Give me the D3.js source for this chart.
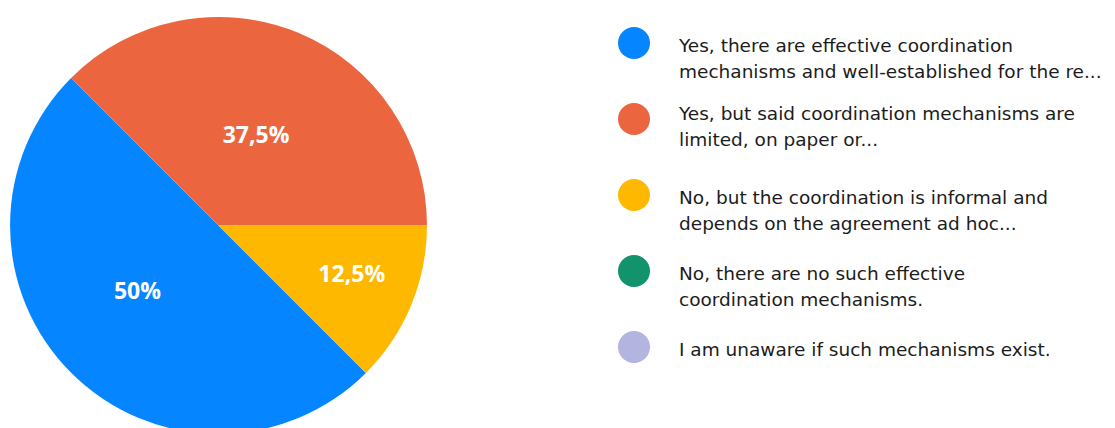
<!DOCTYPE html>
<html>
<head>
<meta charset="utf-8">
<script src="https://cdn.jsdelivr.net/npm/d3@7/dist/d3.min.js"></script>
<style>
  html, body { margin: 0; padding: 0; background: #fff; }
  svg { display: block; }
</style>
</head>
<body>
<div id="chart"></div>
<script>
// answer options (legend order) and their shares in percent
const answers = [
  "Yes, there are effective coordination|mechanisms and well-established for the re...",
  "Yes, but said coordination mechanisms are|limited, on paper or...",
  "No, but the coordination is informal and|depends on the agreement ad hoc...",
  "No, there are no such effective|coordination mechanisms.",
  "I am unaware if such mechanisms exist."
];
const shares = [50, 37.5, 12.5, 0, 0];
const shareLabels = ["50%", "37,5%", "12,5%", "", ""];
const colors = ["#0585ff", "#eb663f", "#ffb800", "#12936c", "#b3b4e0"];

const width = 1115, height = 428;
const cx = 218.5, cy = 225.5, radius = 208.5;

// label placement: distance from centre (fraction of radius) and angle nudge (deg)
const labelRadius = [0.5, 0.47, 0.68, 0.6, 0.6];
const labelTurn = [6, 0, -2.5, 0, 0];

const svg = d3.select("#chart").append("svg")
  .attr("width", width)
  .attr("height", height);

const pie = d3.pie()
  .sort(null)
  .value(d => d.value)
  .startAngle(3 * Math.PI / 4)
  .endAngle(3 * Math.PI / 4 + 2 * Math.PI);

const data = answers.map((a, i) => ({ label: a, value: shares[i], text: shareLabels[i], color: colors[i], i }));
const arcs = pie(data).filter(d => d.data.value > 0);

const arc = d3.arc().innerRadius(0).outerRadius(radius);

const g = svg.append("g").attr("transform", `translate(${cx},${cy})`);

g.selectAll("path.slice")
  .data(arcs)
  .enter().append("path")
  .attr("class", "slice")
  .attr("d", arc)
  .attr("fill", d => d.data.color);

g.selectAll("text.pct")
  .data(arcs)
  .enter().append("text")
  .attr("class", "pct")
  .attr("transform", d => {
    const r = radius * labelRadius[d.data.i];
    const a = (d.startAngle + d.endAngle) / 2 + labelTurn[d.data.i] * Math.PI / 180;
    return `translate(${r * Math.sin(a)},${-r * Math.cos(a)})`;
  })
  .attr("text-anchor", "middle")
  .attr("dy", "0.36em")
  .style("font-family", "'Open Sans', sans-serif")
  .style("font-weight", 700)
  .style("font-size", "23px")
  .style("fill", "#fff")
  .text(d => d.data.text);

// legend
const legendX = 634, legendY0 = 43, legendStep = 76;
// small per-item vertical nudge of the text as seen in the reference
const textShift = [0, -8, 0, 0, 0];

const legend = svg.selectAll("g.legend")
  .data(data)
  .enter().append("g")
  .attr("class", "legend")
  .attr("transform", (d, i) => `translate(${legendX},${legendY0 + i * legendStep})`);

legend.append("circle")
  .attr("r", 16)
  .attr("fill", d => d.color);

legend.append("text")
  .attr("x", 45)
  .attr("y", (d, i) => 9 + textShift[i])
  .style("font-family", "'DejaVu Sans', sans-serif")
  .style("font-size", "18.5px")
  .style("fill", "#1c1c1c")
  .each(function(d) {
    d.label.split("|").forEach((line, k) => {
      d3.select(this).append("tspan")
        .attr("x", 45)
        .attr("dy", k === 0 ? 0 : 26)
        .text(line);
    });
  });
</script>
</body>
</html>
